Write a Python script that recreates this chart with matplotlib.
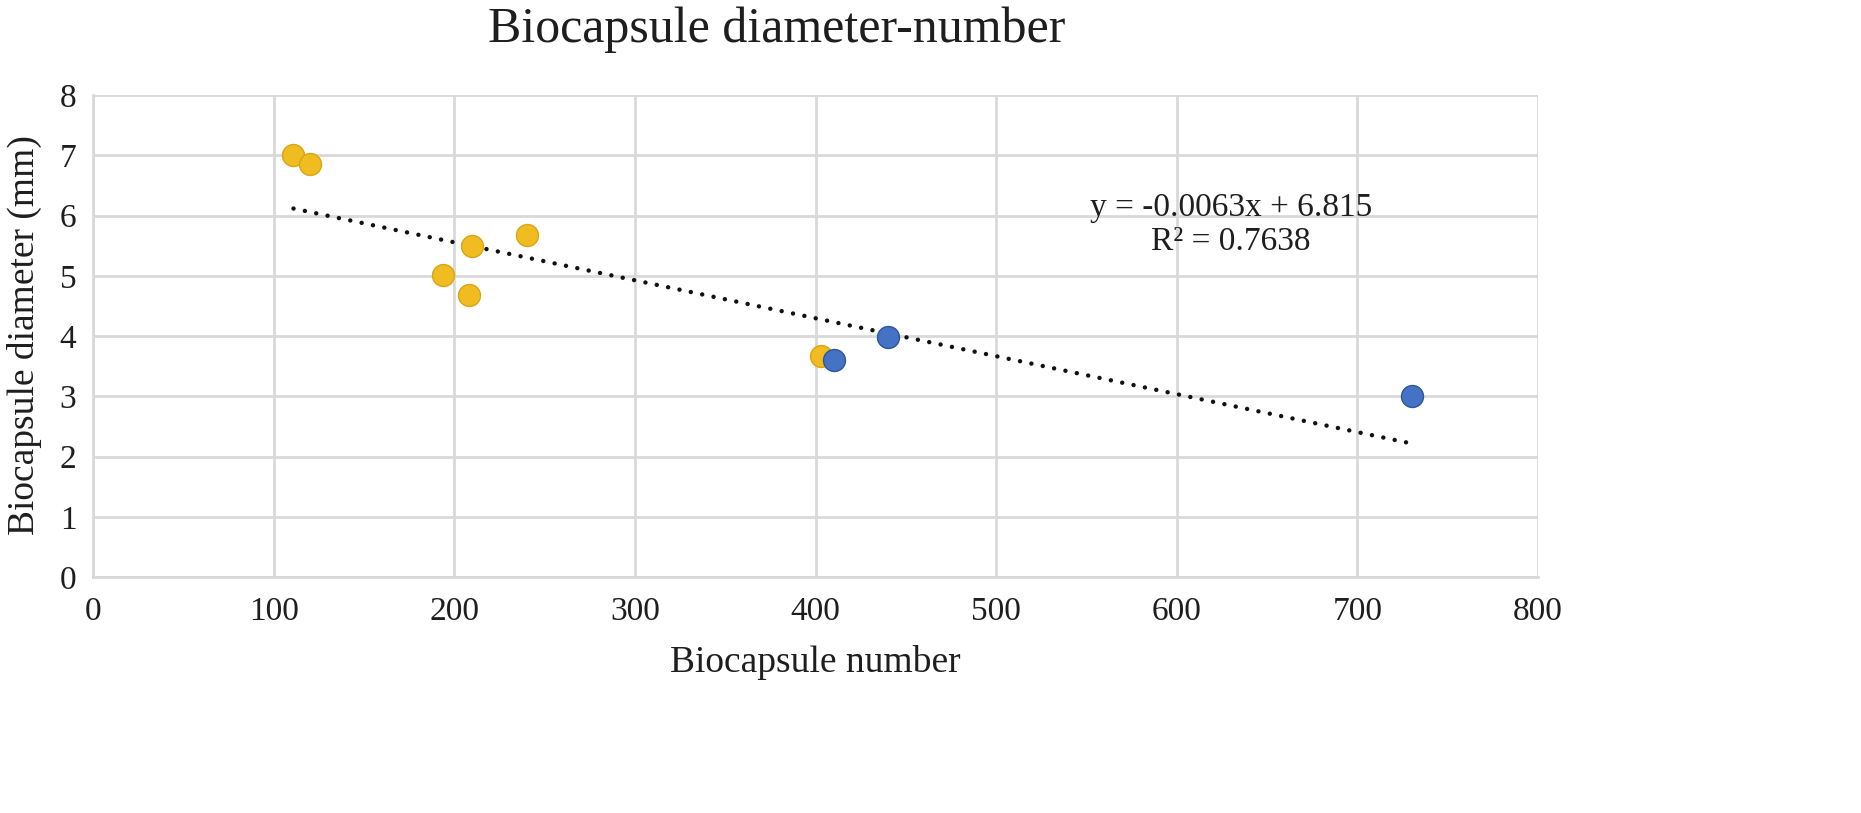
import numpy as np
import matplotlib

matplotlib.use("Agg")
from matplotlib import pyplot as plt

# ---------------- data ---------------- #
yellow_x = [111, 120, 194, 208, 210, 240, 403]
yellow_y = [7.00, 6.85, 5.02, 4.68, 5.50, 5.67, 3.67]
blue_x = [410, 440, 730]
blue_y = [3.60, 3.98, 3.00]

slope = -0.0063
intercept = 6.815
r2 = 0.7638
fit_range = [111, 730]

x_ticks = list(range(0, 801, 100))
y_ticks = list(range(0, 9))

plt.rcParams["font.family"] = ["Liberation Serif", "DejaVu Serif"]

W, H = 1861, 813
fig = plt.figure(figsize=(W / 100, H / 100), dpi=100)
ax = fig.add_axes([93 / W, 1 - 577 / H, (1538 - 93) / W, (577 - 95) / H])

grid_c = "#d9d9d9"
txt_c = "#1e1e1e"
ax.set_xlim(0, 800)
ax.set_ylim(0, 8)
ax.set_xticks(x_ticks)
ax.set_yticks(y_ticks)
ax.grid(True, color=grid_c, linewidth=2)
ax.set_axisbelow(True)
for name, s in ax.spines.items():
    s.set_visible(name in ("left", "bottom"))
    s.set_color(grid_c)
    s.set_linewidth(2)
ax.tick_params(length=0, labelsize=24, colors=txt_c)
ax.tick_params(axis="x", pad=14)
ax.tick_params(axis="y", pad=12)

# trendline (dotted, round dots)
fx = np.array(fit_range, dtype=float)
ax.plot(fx, slope * fx + intercept, color="#111111", linewidth=3.2,
        linestyle=(0, (0.01, 2.6)), dash_capstyle="round", zorder=2)

ax.scatter(yellow_x, yellow_y, s=250, color="#f0bc22", edgecolor="#d9a514",
           linewidth=1, zorder=3)
ax.scatter(blue_x, blue_y, s=250, color="#4472c4", edgecolor="#2f559a",
           linewidth=1, zorder=4)

ax.text(630, 5.85, f"y = {slope}x + {intercept}\nR\u00b2 = {r2}", fontsize=24,
        ha="center", va="center", linespacing=1.15, color=txt_c)

fig.text(777 / W, 1 - 42 / H, "Biocapsule diameter-number", fontsize=36,
         ha="center", va="baseline", color=txt_c)
fig.text(815 / W, 1 - 663 / H, "Biocapsule number", fontsize=27,
         ha="center", va="center", color=txt_c)
fig.text(24 / W, 1 - 335 / H, "Biocapsule diameter (mm)", fontsize=27,
         rotation=90, ha="center", va="center", color=txt_c)

fig.savefig("out.png", dpi=100, facecolor="white")
